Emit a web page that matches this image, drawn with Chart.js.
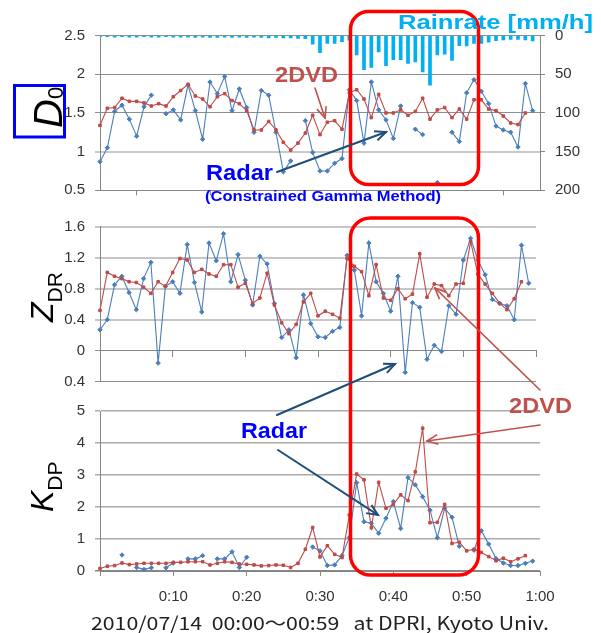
<!DOCTYPE html>
<html><head><meta charset="utf-8">
<script src="https://cdn.jsdelivr.net/npm/chart.js@4.4.0/dist/chart.umd.min.js"></script>
<style>
html,body{margin:0;padding:0;background:#fff;}
#wrap{position:relative;width:601px;height:633px;overflow:hidden;background:#fff;}
canvas{position:absolute;left:0;top:0;}
svg{position:absolute;left:0;top:0;}
</style></head><body>
<div id="wrap">
<canvas id="c1" width="601" height="633"></canvas>
<canvas id="c2" width="601" height="633"></canvas>
<canvas id="c3" width="601" height="633"></canvas>
<svg id="ov" width="601" height="633" xmlns="http://www.w3.org/2000/svg">
  <rect x="350.5" y="11.5" width="128" height="173" rx="18" ry="18" fill="none" stroke="#ff0000" stroke-width="3.5"/>
  <rect x="350.5" y="218" width="128" height="357" rx="20" ry="20" fill="none" stroke="#ff0000" stroke-width="3.5"/>
  <rect x="14.5" y="85.5" width="50" height="51.5" fill="none" stroke="#0000ff" stroke-width="3"/>
  <text transform="translate(62,128) rotate(-90)" font-family="Liberation Sans" font-style="italic" font-size="40" fill="#000">D<tspan font-size="22" font-style="normal" dy="1">0</tspan></text>
  <text transform="translate(53,322) rotate(-90)" font-family="Liberation Sans" font-style="italic" font-size="32" fill="#000">Z<tspan font-size="21" font-style="normal" dy="9">DR</tspan></text>
  <text transform="translate(53,512) rotate(-90)" font-family="Liberation Sans" font-style="italic" font-size="32" fill="#000">K<tspan font-size="21" font-style="normal" dy="9">DP</tspan></text>
  <text x="398" y="29" font-family="Liberation Sans" font-weight="bold" font-size="20" fill="#00b0f0" textLength="195" lengthAdjust="spacingAndGlyphs">Rainrate [mm/h]</text>
  <text x="275" y="82" font-family="Liberation Sans" font-weight="bold" font-size="22" fill="#c0504d" textLength="63" lengthAdjust="spacingAndGlyphs">2DVD</text>
  <text x="206" y="180" font-family="Liberation Sans" font-weight="bold" font-size="22" fill="#0000ff" textLength="67" lengthAdjust="spacingAndGlyphs">Radar</text>
  <text x="205" y="201" font-family="Liberation Sans" font-weight="bold" font-size="14" fill="#0000ff" textLength="236" lengthAdjust="spacingAndGlyphs">(Constrained Gamma Method)</text>
  <text x="241" y="438" font-family="Liberation Sans" font-weight="bold" font-size="22" fill="#0000ff" textLength="66" lengthAdjust="spacingAndGlyphs">Radar</text>
  <text x="509" y="413" font-family="Liberation Sans" font-weight="bold" font-size="22" fill="#c0504d" textLength="63" lengthAdjust="spacingAndGlyphs">2DVD</text>
  <text x="91" y="630" xml:space="preserve" style="white-space:pre" font-family="Noto Sans CJK JP" font-size="18" fill="#222" textLength="458" lengthAdjust="spacingAndGlyphs">2010/07/14  00:00～00:59   at DPRI, Kyoto Univ.</text>
</svg>
</div>
<script>
// ---- data (one value per minute, 00:00 .. 00:59) ----
const minutes = [0,1,2,3,4,5,6,7,8,9,10,11,12,13,14,15,16,17,18,19,20,21,22,23,24,25,26,27,28,29,
  30,31,32,33,34,35,36,37,38,39,40,41,42,43,44,45,46,47,48,49,50,51,52,53,54,55,56,57,58,59];
const timeTickLabels = ['0:10','0:20','0:30','0:40','0:50','1:00'];

const rainRate = [1.5,1.5,2,1.5,2,2,1.5,2,2,1.5,2,2,2,2.5,2,2.5,2.5,2,2.5,2,2.5,2,2.5,3,2.5,3,3,3.5,
  4,11,22,10,10,8,6,25,44,41,21,39,31,31,36,34,47,64,25,24,32,13,13.5,10,10,8.5,6.5,5.5,5,5,5.5,7];

const d0Dvd = [1.34,1.56,1.57,1.69,1.65,1.65,1.63,1.59,1.62,1.59,
  1.71,1.79,1.87,1.72,1.68,1.58,1.71,1.75,1.66,1.62,
  1.53,1.28,1.28,1.39,1.28,1.12,1.02,1.11,1.24,1.47,
  1.22,1.38,1.40,1.29,1.76,1.80,1.68,1.44,1.74,1.50,
  1.50,1.54,1.47,1.52,1.69,1.42,1.54,1.57,1.44,1.55,
  1.42,1.67,1.67,1.55,1.53,1.46,1.37,1.35,1.50,null];
const d0Radar = [0.87,1.05,1.52,1.60,1.42,1.20,1.58,1.73,null,1.49,
  1.54,1.41,1.86,1.53,1.16,1.90,1.75,1.97,1.53,1.81,
  1.57,1.25,1.79,1.73,1.25,0.74,0.88,null,1.40,0.99,
  0.75,0.75,0.85,0.91,1.80,1.66,1.11,1.90,1.54,1.41,
  1.17,1.59,null,1.29,1.22,null,0.60,null,1.25,1.13,
  1.76,1.93,1.78,1.62,1.33,1.28,1.25,1.06,1.88,1.53];

const zdrDvd = [0.52,1.01,0.96,0.93,0.89,0.88,0.82,0.74,0.89,0.83,
  1.01,1.19,1.17,1.01,1.05,0.99,0.96,1.11,1.11,0.82,
  0.87,0.61,0.68,1.00,0.59,0.36,0.22,0.34,0.63,0.74,
  0.45,0.51,0.47,0.42,1.19,1.09,1.02,0.71,1.11,0.68,
  0.65,0.80,0.67,0.73,1.25,0.69,0.86,0.84,0.71,0.86,
  0.87,1.41,0.99,0.86,0.74,0.61,0.53,0.67,0.89,null];
const zdrRadar = [0.27,0.40,0.85,0.96,0.75,0.53,0.93,1.14,-0.16,0.83,
  0.89,0.74,1.37,0.88,0.50,1.39,1.16,1.51,0.89,1.24,
  0.91,0.59,1.22,1.12,0.61,0.17,0.27,-0.09,0.72,0.35,
  0.18,0.17,0.25,0.30,1.23,1.04,0.45,1.39,0.89,0.74,
  0.51,0.96,-0.28,0.62,0.56,-0.11,0.07,-0.01,0.58,0.47,
  1.17,1.45,1.17,0.98,0.66,0.61,0.58,0.40,1.36,0.87];

const kdpDvd = [0.08,0.15,0.17,0.25,0.20,0.22,0.24,0.24,0.24,0.24,
  0.27,0.27,0.29,0.29,0.29,0.19,0.24,0.29,0.27,0.22,
  0.21,0.19,0.16,0.17,0.19,0.18,0.11,0.24,0.68,1.36,
  0.44,0.79,0.52,0.42,1.75,3.03,2.85,1.35,2.77,1.96,
  2.08,2.38,2.20,3.10,4.46,1.51,1.52,2.08,0.86,0.90,
  0.63,0.68,0.58,0.45,0.32,0.40,0.29,0.38,0.48,null];
const kdpRadar = [null,null,null,0.50,null,0.11,0.05,0.10,null,0.10,
  0.25,null,0.38,0.38,0.48,null,0.38,0.38,0.60,0.11,
  0.43,null,null,null,null,null,null,null,null,0.75,
  0.63,0.17,0.19,0.48,1.05,2.76,1.54,1.49,1.18,1.65,
  2.17,1.33,2.92,2.69,2.32,1.90,1.04,1.96,1.68,0.77,
  null,0.65,1.26,0.84,0.39,0.25,0.17,0.17,0.24,0.31];

// ---- styling ----
const RADAR = '#4a7ebb', DVD = '#be4b48', RAIN = '#00b0f0';
const AXIS = '#868686', TICKC = '#333';
const FONT = {family:'Liberation Sans', size:15};
const fmt = v => String(Math.round(v*10)/10);
function pts(arr){ return minutes.map((m,i)=>({x:m, y:arr[i]})); }
function lineDs(arr, color, style, r){
  return {type:'line', data:pts(arr), borderColor:color, backgroundColor:color, borderWidth:1.1,
    pointRadius:r, pointStyle:style, pointBorderWidth:1, pointBackgroundColor:color, pointBorderColor:color,
    spanGaps:false, tension:0, clip:6};
}
function xScale(extra){
  return Object.assign({type:'linear', min:0, max:60, offset:false,
    ticks:{stepSize:10, display:false, autoSkip:false, maxRotation:0},
    grid:{drawOnChartArea:false, drawTicks:true, tickLength:5, color:AXIS},
    border:{display:true, color:AXIS, width:1}}, extra||{});
}
Chart.defaults.font.family = 'Liberation Sans';
const base = {responsive:false, animation:false, devicePixelRatio:1,
  plugins:{legend:{display:false}, tooltip:{enabled:false}}, events:[]};

// Panel 1: D0 + rain rate
new Chart(document.getElementById('c1'), {
  type:'line',
  data:{datasets:[
    {type:'bar', data:pts(rainRate), yAxisID:'y2', backgroundColor:RAIN, barThickness:3, grouped:false, order:3},
    Object.assign(lineDs(d0Radar, RADAR, 'rectRot', 2.2), {yAxisID:'y', order:2}),
    Object.assign(lineDs(d0Dvd, DVD, 'rect', 1.8), {yAxisID:'y', order:1})
  ]},
  options:Object.assign({}, base, {
    layout:{padding:{top:35.6, bottom:0, left:0, right:0}},
    scales:{
      x: xScale({afterFit:s=>{s.height = 633-190.3;}}),
      y:{position:'left', min:0.5, max:2.5, ticks:{stepSize:0.5, color:TICKC, font:FONT, padding:10, callback:fmt},
         grid:{color:c=>c.tick && c.tick.value===1 ? '#c9c9c9' : '#8e8e8e',
               lineWidth:c=>c.tick && c.tick.value===1 ? 2 : 1, tickLength:5},
         border:{color:AXIS}, afterFit:s=>{s.width=100;}},
      y2:{position:'right', reverse:true, min:0, max:200, ticks:{stepSize:50, color:TICKC, font:FONT, padding:10},
         grid:{drawOnChartArea:false, tickLength:5, color:AXIS}, border:{color:AXIS},
         afterFit:s=>{s.width=61;}}
    }
  })
});

// Panel 2: ZDR
new Chart(document.getElementById('c2'), {
  type:'line',
  data:{datasets:[
    Object.assign(lineDs(zdrRadar, RADAR, 'rectRot', 2.2), {order:2}),
    Object.assign(lineDs(zdrDvd, DVD, 'rect', 1.8), {order:1})
  ]},
  options:Object.assign({}, base, {
    layout:{padding:{top:226.7, bottom:633-381.7, left:0, right:65}},
    scales:{
      x: xScale({position:{y:0}, grid:{drawOnChartArea:false, drawTicks:true, tickLength:6, color:AXIS}}),
      y:{position:'left', min:-0.4, max:1.6,
         ticks:{stepSize:0.4, color:TICKC, font:FONT, padding:10,
                callback:v=>Math.abs(v)<1e-9 ? '0' : Math.abs(v).toFixed(1)},
         grid:{color:c=>c.tick && (Math.abs(c.tick.value)<1e-9 || c.tick.value< -0.3) ? '#8e8e8e' : '#c6c6c6',
               lineWidth:c=>c.tick && (Math.abs(c.tick.value)<1e-9 || c.tick.value< -0.3) ? 1 : 2, tickLength:5},
         border:{color:AXIS}, afterFit:s=>{s.width=100;}}
    }
  })
});

// Panel 3: KDP
new Chart(document.getElementById('c3'), {
  type:'line',
  data:{datasets:[
    Object.assign(lineDs(kdpRadar, RADAR, 'rectRot', 2.2), {order:2}),
    Object.assign(lineDs(kdpDvd, DVD, 'rect', 1.8), {order:1})
  ]},
  options:Object.assign({}, base, {
    layout:{padding:{top:411, bottom:0, left:0, right:61}},
    scales:{
      x: xScale({ticks:{stepSize:10, display:true, autoSkip:false, maxRotation:0, color:TICKC, font:FONT, padding:12,
                  callback:v=>v===0 ? '' : timeTickLabels[Math.round(v/10)-1]},
                 afterFit:s=>{s.height=62;}}),
      y:{position:'left', min:0, max:5, ticks:{stepSize:1, color:TICKC, font:FONT, padding:10},
         grid:{color:c=>c.tick && c.tick.value===0 ? AXIS : '#ababab', lineWidth:1.5, tickLength:5},
         border:{color:AXIS}, afterFit:s=>{s.width=100;}}
    }
  })
});

// ---- annotation arrows ----
const svgNS='http://www.w3.org/2000/svg';
const ov=document.getElementById('ov');
function el(tag, attrs){ const e=document.createElementNS(svgNS,tag); for(const k in attrs) e.setAttribute(k,attrs[k]); ov.appendChild(e); return e; }
function arrow(x1,y1,x2,y2,color,w){
  el('line',{x1:x1,y1:y1,x2:x2,y2:y2,stroke:color,'stroke-width':w,'stroke-linecap':'round'});
  const a=Math.atan2(y2-y1,x2-x1), L=12, h=0.42;
  const p1=[x2-L*Math.cos(a-h), y2-L*Math.sin(a-h)], p2=[x2-L*Math.cos(a+h), y2-L*Math.sin(a+h)];
  el('polyline',{points:p1.join(',')+' '+x2+','+y2+' '+p2.join(','),fill:'none',stroke:color,'stroke-width':w});
}
const NAVY='#1f4e79', REDA='#c0504d';
arrow(315,88,325,118,REDA,1.6);
arrow(277,172,386,132,NAVY,2);
arrow(277,415,395,364,NAVY,2);
arrow(278,450,378,515,NAVY,2);
arrow(540,390,435,288,REDA,1.6);
arrow(540,425,427,441,REDA,1.6);
</script>
</body></html>
